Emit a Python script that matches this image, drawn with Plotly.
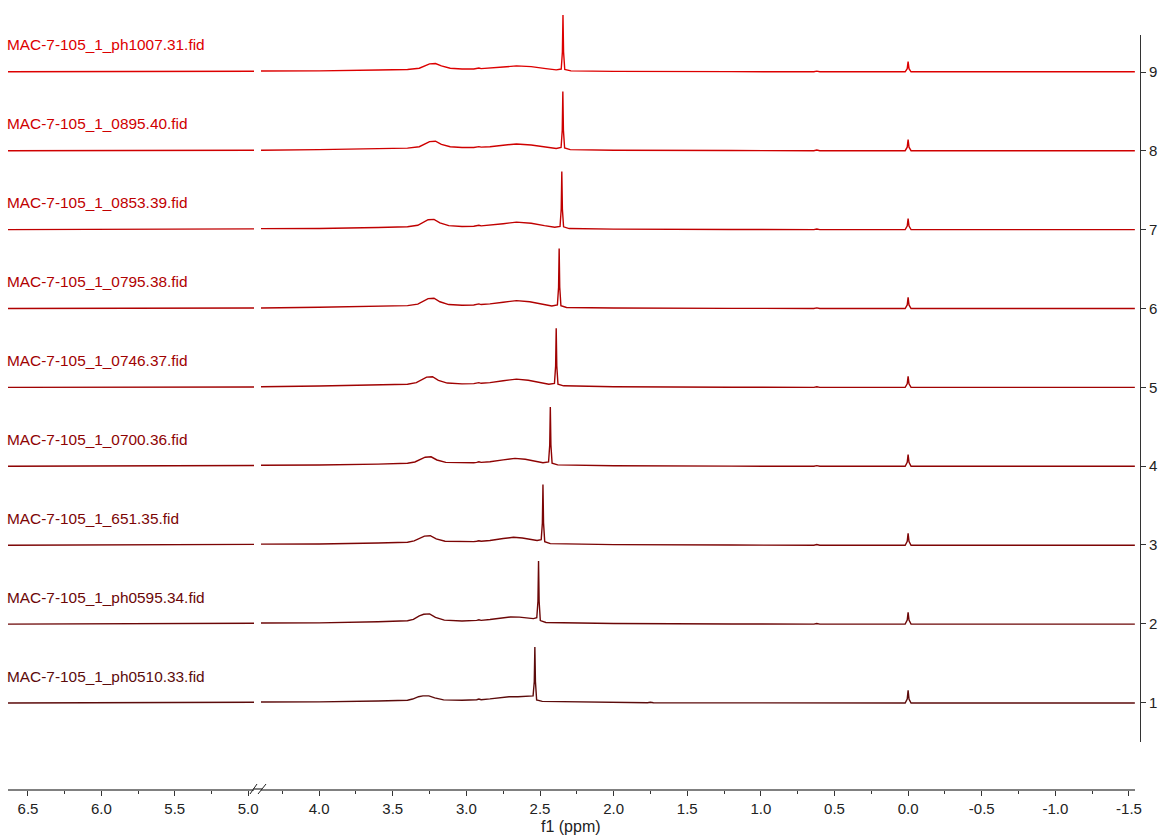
import plotly.graph_objects as go

# ---------------- data ----------------
LABELS = {
    9: "MAC-7-105_1_ph1007.31.fid",
    8: "MAC-7-105_1_0895.40.fid",
    7: "MAC-7-105_1_0853.39.fid",
    6: "MAC-7-105_1_0795.38.fid",
    5: "MAC-7-105_1_0746.37.fid",
    4: "MAC-7-105_1_0700.36.fid",
    3: "MAC-7-105_1_651.35.fid",
    2: "MAC-7-105_1_ph0595.34.fid",
    1: "MAC-7-105_1_ph0510.33.fid",
}

TAIL_PPM = [2.0, 1.77, 1.75, 1.73, 1.2, 0.64, 0.62, 0.60, 0.02, 0.006, 0.0, -0.006, -0.02, -0.6, -1.54]
HEAD_PPM = [6.64, 6.2, 5.6, 5.2, 4.98, 4.4, 4.0, 3.6, 3.4]
GLITCH_PPM = [3.03, 2.95, 2.93, 2.915, 2.90, 2.84, 2.75]

PPM_9 = HEAD_PPM + [3.32, 3.28, 3.25, 3.21, 3.17, 3.11] + GLITCH_PPM + [2.66, 2.56, 2.46, 2.39, 2.356, 2.348, 2.344, 2.340, 2.332, 2.29] + TAIL_PPM
PPM_8 = HEAD_PPM + [3.32, 3.28, 3.25, 3.21, 3.17, 3.11] + GLITCH_PPM + [2.66, 2.56, 2.46, 2.39, 2.357, 2.349, 2.345, 2.341, 2.333, 2.295] + TAIL_PPM
PPM_7 = HEAD_PPM + [3.33, 3.29, 3.26, 3.22, 3.18, 3.12] + GLITCH_PPM + [2.66, 2.56, 2.47, 2.40, 2.364, 2.356, 2.352, 2.348, 2.340, 2.302] + TAIL_PPM
PPM_6 = HEAD_PPM + [3.33, 3.29, 3.26, 3.22, 3.18, 3.12] + GLITCH_PPM + [2.66, 2.57, 2.48, 2.42, 2.382, 2.374, 2.370, 2.366, 2.358, 2.32] + TAIL_PPM
PPM_5 = HEAD_PPM + [3.34, 3.30, 3.27, 3.23, 3.19, 3.13] + GLITCH_PPM + [2.66, 2.58, 2.50, 2.44, 2.402, 2.394, 2.390, 2.386, 2.378, 2.34] + TAIL_PPM
PPM_4 = HEAD_PPM + [3.35, 3.31, 3.28, 3.24, 3.20, 3.14] + GLITCH_PPM + [2.67, 2.60, 2.53, 2.48, 2.442, 2.434, 2.430, 2.426, 2.418, 2.38] + TAIL_PPM
PPM_3 = HEAD_PPM + [3.355, 3.315, 3.285, 3.245, 3.205, 3.145] + GLITCH_PPM + [2.68, 2.62, 2.56, 2.52, 2.492, 2.484, 2.480, 2.476, 2.468, 2.43] + TAIL_PPM
PPM_2 = HEAD_PPM + [3.36, 3.32, 3.29, 3.25, 3.21, 3.15] + GLITCH_PPM + [2.70, 2.64, 2.58, 2.545, 2.522, 2.514, 2.510, 2.506, 2.498, 2.46] + TAIL_PPM
PPM_1 = HEAD_PPM + [3.365, 3.325, 3.295, 3.255, 3.215, 3.155] + GLITCH_PPM + [2.71, 2.65, 2.59, 2.56, 2.547, 2.539, 2.535, 2.531, 2.523, 2.485] + TAIL_PPM

INT_9 = [0.0, 0.002, 0.0, 0.003, 0.004, 0.005, 0.012, 0.022, 0.03, 0.045, 0.08, 0.1, 0.105, 0.075, 0.045, 0.035, 0.035, 0.04, 0.048, 0.04, 0.045, 0.06, 0.075, 0.065, 0.04, 0.025, 0.035, 0.25, 0.72, 0.25, 0.03, 0.012, 0.006, 0.003, 0.012, 0.003, 0.002, 0.0, 0.008, 0.0, 0.0, 0.04, 0.13, 0.04, 0.0, 0.0, 0.0]
INT_8 = [0.0, 0.003, 0.001, 0.002, 0.005, 0.006, 0.013, 0.024, 0.033, 0.05, 0.09, 0.115, 0.12, 0.08, 0.05, 0.04, 0.04, 0.045, 0.052, 0.045, 0.05, 0.07, 0.085, 0.072, 0.045, 0.028, 0.04, 0.26, 0.75, 0.26, 0.035, 0.013, 0.006, 0.003, 0.012, 0.003, 0.002, 0.0, 0.008, 0.0, 0.0, 0.045, 0.14, 0.045, 0.0, 0.0, 0.0]
INT_7 = [0.0, 0.002, 0.001, 0.003, 0.004, 0.006, 0.014, 0.026, 0.036, 0.055, 0.1, 0.125, 0.13, 0.085, 0.05, 0.04, 0.042, 0.047, 0.055, 0.047, 0.055, 0.075, 0.095, 0.08, 0.05, 0.03, 0.04, 0.26, 0.735, 0.26, 0.035, 0.013, 0.006, 0.003, 0.012, 0.003, 0.002, 0.0, 0.008, 0.0, 0.0, 0.045, 0.14, 0.045, 0.0, 0.0, 0.0]
INT_6 = [0.0, 0.003, 0.001, 0.002, 0.006, 0.006, 0.015, 0.027, 0.037, 0.055, 0.1, 0.125, 0.13, 0.085, 0.05, 0.042, 0.045, 0.05, 0.058, 0.05, 0.058, 0.08, 0.1, 0.085, 0.055, 0.032, 0.045, 0.27, 0.76, 0.27, 0.035, 0.013, 0.006, 0.003, 0.012, 0.003, 0.002, 0.0, 0.008, 0.0, 0.0, 0.045, 0.14, 0.045, 0.0, 0.0, 0.0]
INT_5 = [0.0, 0.002, 0.001, 0.003, 0.005, 0.008, 0.018, 0.03, 0.04, 0.06, 0.105, 0.13, 0.135, 0.09, 0.055, 0.045, 0.048, 0.053, 0.06, 0.052, 0.06, 0.085, 0.105, 0.09, 0.06, 0.04, 0.05, 0.27, 0.75, 0.27, 0.04, 0.02, 0.008, 0.004, 0.013, 0.004, 0.002, 0.0, 0.008, 0.0, 0.0, 0.045, 0.14, 0.045, 0.0, 0.0, 0.0]
INT_4 = [0.0, 0.002, 0.001, 0.003, 0.004, 0.007, 0.016, 0.028, 0.038, 0.055, 0.095, 0.115, 0.12, 0.08, 0.05, 0.042, 0.045, 0.05, 0.057, 0.05, 0.058, 0.082, 0.1, 0.09, 0.065, 0.045, 0.055, 0.27, 0.75, 0.27, 0.04, 0.018, 0.007, 0.003, 0.012, 0.003, 0.002, 0.0, 0.008, 0.0, 0.0, 0.05, 0.15, 0.05, 0.0, 0.0, 0.0]
INT_3 = [0.0, 0.002, 0.001, 0.003, 0.004, 0.007, 0.016, 0.028, 0.038, 0.055, 0.095, 0.115, 0.12, 0.08, 0.05, 0.042, 0.045, 0.05, 0.057, 0.05, 0.06, 0.085, 0.1, 0.092, 0.075, 0.06, 0.07, 0.28, 0.77, 0.28, 0.045, 0.02, 0.007, 0.003, 0.012, 0.003, 0.002, 0.0, 0.008, 0.0, 0.0, 0.05, 0.15, 0.05, 0.0, 0.0, 0.0]
INT_2 = [0.0, 0.002, 0.001, 0.003, 0.004, 0.007, 0.016, 0.03, 0.042, 0.06, 0.105, 0.125, 0.13, 0.085, 0.05, 0.04, 0.042, 0.047, 0.054, 0.047, 0.058, 0.08, 0.09, 0.088, 0.08, 0.07, 0.08, 0.29, 0.8, 0.29, 0.045, 0.02, 0.007, 0.003, 0.012, 0.003, 0.002, 0.0, 0.008, 0.0, 0.0, 0.05, 0.15, 0.05, 0.0, 0.0, 0.0]
INT_1 = [0.0, 0.002, 0.001, 0.002, 0.003, 0.006, 0.014, 0.026, 0.035, 0.05, 0.08, 0.09, 0.09, 0.065, 0.04, 0.035, 0.038, 0.042, 0.05, 0.042, 0.052, 0.07, 0.08, 0.08, 0.082, 0.085, 0.09, 0.27, 0.71, 0.27, 0.04, 0.02, 0.007, 0.003, 0.01, 0.003, 0.002, 0.0, 0.008, 0.0, 0.0, 0.05, 0.16, 0.05, 0.0, 0.0, 0.0]

SPECTRA = {
    9: (PPM_9, INT_9), 8: (PPM_8, INT_8), 7: (PPM_7, INT_7),
    6: (PPM_6, INT_6), 5: (PPM_5, INT_5), 4: (PPM_4, INT_4),
    3: (PPM_3, INT_3), 2: (PPM_2, INT_2), 1: (PPM_1, INT_1),
}

COLORS = {1: "#5c0b0b", 2: "#6c0707", 3: "#7c0505", 4: "#8e0303", 5: "#a00202",
          6: "#b00101", 7: "#c00000", 8: "#cf0000", 9: "#dd0000"}

X_LEFT_TICKS = [6.5, 6.0, 5.5, 5.0]
X_LEFT_LABELS = ["6.5", "6.0", "5.5", "5.0"]
X_LEFT_MINOR = [6.25, 5.75, 5.25]
X_RIGHT_TICKS = [4.0, 3.5, 3.0, 2.5, 2.0, 1.5, 1.0, 0.5, 0.0, -0.5, -1.0, -1.5]
X_RIGHT_LABELS = ["4.0", "3.5", "3.0", "2.5", "2.0", "1.5", "1.0", "0.5", "0.0", "-0.5", "-1.0", "-1.5"]
X_RIGHT_MINOR = [4.25, 3.75, 3.25, 2.75, 2.25, 1.75, 1.25, 0.75, 0.25, -0.25, -0.75, -1.25]
Y_TICKS = [1, 2, 3, 4, 5, 6, 7, 8, 9]

# ---------------- layout geometry ----------------
W, H = 1163, 837
ML, MR, MT, MB = 8, 23, 0, 48
PW = W - ML - MR
PH = H - MT - MB


def px_x(px):
    return (px - ML) / PW


def px_y(py):
    return (MT + PH - py) / PH


FONT = "Liberation Sans, Arial, sans-serif"
AXIS_GRAY = "#808080"

fig = go.Figure()

for k in range(9, 0, -1):
    ppm, inten = SPECTRA[k]
    assert len(ppm) == len(inten)
    yvals = [k + v for v in inten]
    for xa in ("x", "x2"):
        fig.add_trace(go.Scatter(
            x=ppm, y=yvals, mode="lines", xaxis=xa, yaxis="y",
            line=dict(color=COLORS[k], width=1.4),
            showlegend=False, hoverinfo="skip",
        ))
    fig.add_annotation(
        x=0, xref="paper", y=k + 0.342, yref="y", xshift=-2,
        text=LABELS[k], showarrow=False, xanchor="left", yanchor="middle",
        borderpad=0,
        font=dict(family=FONT, size=15.4, color=COLORS[k]),
    )

# dummy trace so the right-hand offset axis gets drawn
fig.add_trace(go.Scatter(x=[None], y=[None], xaxis="x2", yaxis="y3",
                         showlegend=False, hoverinfo="skip"))

common_x = dict(
    showline=True, linecolor=AXIS_GRAY, linewidth=2,
    ticks="outside", ticklen=5, tickcolor="#333333", tickwidth=1,
    tickfont=dict(family=FONT, size=15, color="#222222"),
    showgrid=False, zeroline=False, anchor="y", tickmode="array",
)

fig.update_layout(
    width=W, height=H,
    margin=dict(l=ML, r=MR, t=MT, b=MB, pad=0),
    paper_bgcolor="white", plot_bgcolor="rgba(0,0,0,0)",
    xaxis=dict(domain=[0, px_x(254)], range=[6.636, 4.96],
               tickvals=X_LEFT_TICKS, ticktext=X_LEFT_LABELS,
               minor=dict(tickvals=X_LEFT_MINOR, ticks="outside", ticklen=3,
                          tickcolor="#333333", tickwidth=1),
               **common_x),
    xaxis2=dict(domain=[px_x(261), px_x(1135)], range=[4.395, -1.541],
                tickvals=X_RIGHT_TICKS, ticktext=X_RIGHT_LABELS,
                minor=dict(tickvals=X_RIGHT_MINOR, ticks="outside", ticklen=3,
                           tickcolor="#333333", tickwidth=1),
                **common_x),
    yaxis=dict(domain=[0, 1], range=[-0.09, 9.91], visible=False, anchor="x"),
    yaxis3=dict(domain=[px_y(742), px_y(35)], range=[0.5, 9.47],
                anchor="free", position=1.0, side="right",
                showline=True, linecolor="#333333", linewidth=1,
                ticks="outside", ticklen=5, tickcolor="#333333",
                tickvals=Y_TICKS, ticktext=[str(v) for v in Y_TICKS],
                tickfont=dict(family=FONT, size=15, color="#222222"),
                showgrid=False, zeroline=False),
)

# axis title centred under the whole broken axis
fig.add_annotation(x=px_x(571), xref="paper", y=px_y(826), yref="paper",
                   text="f1 (ppm)", showarrow=False, xanchor="center", yanchor="middle",
                   font=dict(family=FONT, size=16, color="#222222"))

# fill the axis line across the break and draw the break marks
fig.add_shape(type="line", xref="paper", yref="paper",
              x0=px_x(253), x1=px_x(262), y0=px_y(789), y1=px_y(789),
              line=dict(color=AXIS_GRAY, width=2))
for a, b in ((250, 257), (258, 266)):
    fig.add_shape(type="line", xref="paper", yref="paper",
                  x0=px_x(a), y0=px_y(794), x1=px_x(b), y1=px_y(784),
                  line=dict(color="#222222", width=1))

fig.write_html("out.html")
